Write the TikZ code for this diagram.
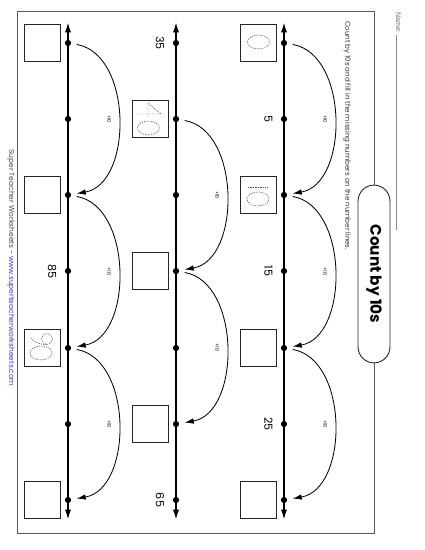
\documentclass[tikz,border=0pt]{standalone}
\usepackage{fontspec}
\setmainfont{Liberation Sans}
\newfontfamily\gothic{Poppins}
\usetikzlibrary{arrows.meta}

\definecolor{framegray}{gray}{0.35}
\definecolor{urlblue}{RGB}{60,60,210}

\tikzset{
  numline/.style={line width=2.6pt, {Latex[length=15pt,width=9pt]}-{Latex[length=15pt,width=9pt]}},
  tick/.style={circle, fill, inner sep=0pt, minimum size=9pt},
  ansbox/.style={draw=black!85, line width=1.6pt, minimum size=53pt, inner sep=0pt},
  jump/.style={line width=1.2pt, -{Latex[length=13pt,width=8pt]}, shorten <=8pt, shorten >=8pt},
  jumplabel/.style={font=\gothic\fontsize{7}{8}\selectfont, inner sep=1pt},
  numlabel/.style={font=\gothic\fontsize{16}{18}\selectfont},
  titlebox/.style={draw=black!85, fill=white, line width=1.3pt, rounded corners=23pt,
    minimum width=256pt, minimum height=46pt, font=\gothic\bfseries\fontsize{22}{26}\selectfont},
  trace/.style={draw=black!70, line width=0.7pt, dash pattern=on 2pt off 1.5pt}
}

\begin{document}
\begin{tikzpicture}[x=1.44pt, y=1.44pt]
  \begin{scope}[rotate=-90, transform shape]
    % letter page, turned on its side
    \useasboundingbox (0,0) rectangle (550,425);

    % frame and heading
    \draw[framegray, line width=1pt] (11,17) rectangle (533,374);
    \node[titlebox] (title) at (274,374) {Count by 10s};
    \node[anchor=base west, text=black!60] (name) at (10,396) {Name:};
    \draw[black!45, line width=0.8pt] (35,396) -- (230,396);
    \node[anchor=west, text=black!80, font=\gothic\fontsize{10.2}{12}\selectfont] (task) at (19,347)
      {Count by 10s and fill in the missing numbers on the number lines.};
    \node[text=black!70, font=\gothic\fontsize{10.7}{12}\selectfont] (credit) at (268,11)
      {Super Teacher Worksheets - \textcolor{urlblue}{www.superteacherworksheets.com}};

    % first line: 0 to 30
    \coordinate (a-l) at (22,284);
    \coordinate (a-r) at (520,284);
    \draw[numline] (a-l) -- (a-r);
    \foreach \i/\u in {1/43,2/119,3/195,4/271,5/348,6/424,7/500}
      \node[tick] (a\i) at (\u,284) {};
    \foreach \i/\u in {1/43,3/195,5/348,7/500}
      \node[ansbox] (ab\i) at (\u,258.5) {};
    \node[numlabel] (a2n) at (119,268.5) {5};
    \node[numlabel] (a4n) at (271,268.5) {15};
    \node[numlabel] (a6n) at (424,268.5) {25};
    \foreach \s/\e/\p/\q in {1/3/43/195,3/5/195/348,5/7/348/500}
      \draw[jump] (a\s) .. controls (\p+11,349) and (\q-11,349) .. (a\e)
        node[jumplabel, midway, below=8pt] {+10};

    % second line: 35 to 65
    \coordinate (b-l) at (22,176);
    \coordinate (b-r) at (520,176);
    \draw[numline] (b-l) -- (b-r);
    \foreach \i/\u in {1/43,2/119,3/195,4/271,5/348,6/424,7/500}
      \node[tick] (b\i) at (\u,176) {};
    \foreach \i/\u in {2/119,4/271,6/424}
      \node[ansbox] (bb\i) at (\u,150.5) {};
    \node[numlabel] (b1n) at (43,160) {35};
    \node[numlabel] (b7n) at (500,160) {65};
    \foreach \s/\e/\p/\q in {2/4/119/271,4/6/271/424}
      \draw[jump] (b\s) .. controls (\p+11,241) and (\q-11,241) .. (b\e)
        node[jumplabel, midway, below=8pt] {+10};

    % third line: 70 to 100
    \coordinate (c-l) at (22,68);
    \coordinate (c-r) at (520,68);
    \draw[numline] (c-l) -- (c-r);
    \foreach \i/\u in {1/43,2/119,3/195,4/271,5/348,6/424,7/500}
      \node[tick] (c\i) at (\u,68) {};
    \foreach \i/\u in {1/43,3/195,5/348,7/500}
      \node[ansbox] (cb\i) at (\u,42.5) {};
    \node[numlabel] (c4n) at (271,52) {85};
    \foreach \s/\e/\p/\q in {1/3/43/195,3/5/195/348,5/7/348/500}
      \draw[jump] (c\s) .. controls (\p+11,133) and (\q-11,133) .. (c\e)
        node[jumplabel, midway, below=8pt] {+10};

    % dashed digits to trace over: 0, 10, 40, 90
    \foreach \p in {(42,258.5),(199,258),(128,148.5),(353,41)}
      \draw[trace] \p ellipse [x radius=7, y radius=11];
    \draw[trace] (187,248) -- (187,268);
    \draw[trace] (114,137) -- (114,161) -- (103,148) -- (117,148);
    \draw[trace] (339,47) circle [radius=5.5];
    \draw[trace] (344.5,47) .. controls (344.5,39) and (342,33) .. (338,31);
  \end{scope}
\end{tikzpicture}
\end{document}
